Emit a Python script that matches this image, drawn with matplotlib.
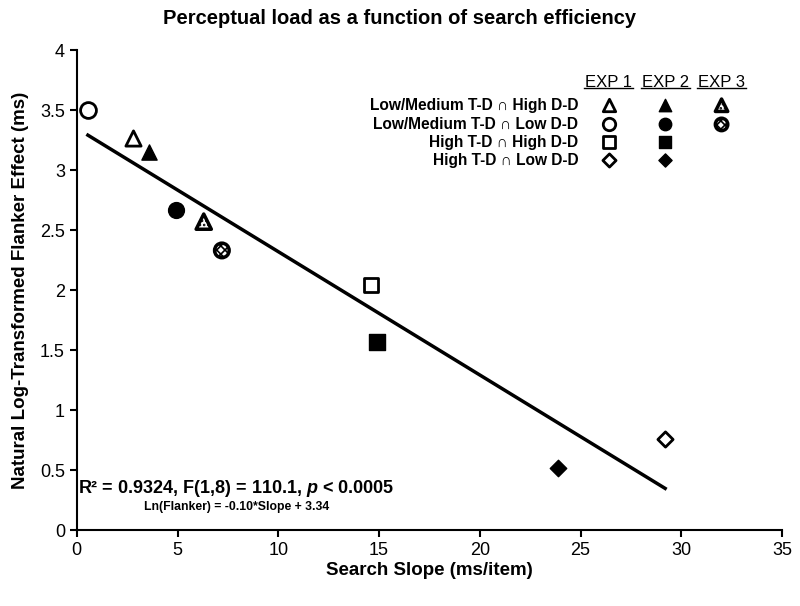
import numpy as np
import matplotlib.pyplot as plt

plt.rcParams['font.family'] = ['Liberation Sans', 'DejaVu Sans']
plt.rcParams['hatch.linewidth'] = 1.2
plt.rcParams['mathtext.fontset'] = 'custom'
plt.rcParams['mathtext.it'] = 'Liberation Sans:italic:bold'
plt.rcParams['mathtext.rm'] = 'Liberation Sans:bold'

# search slope (ms/item) and ln flanker effect per condition
labels = ["EXP1 LM-HD", "EXP1 LM-LD", "EXP1 H-HD", "EXP1 H-LD",
          "EXP2 LM-HD", "EXP2 LM-LD", "EXP2 H-HD", "EXP2 H-LD",
          "EXP3 LM-HD", "EXP3 LM-LD"]
slope = [2.8, 0.55, 14.6, 29.2, 3.6, 4.9, 14.9, 23.9, 6.3, 7.2]
flanker = [3.27, 3.50, 2.04, 0.76, 3.15, 2.67, 1.57, 0.52, 2.57, 2.33]
markers = ['^', 'o', 's', 'D', '^', 'o', 's', 'D', '^', 'o']
styles = ['open', 'open', 'open', 'open', 'filled', 'filled', 'filled', 'filled', 'hatch', 'hatch']
sizes = [120, 130, 110, 60, 120, 130, 130, 70, 120, 110]

legend_rows = ["Low/Medium T-D \u2229 High D-D", "Low/Medium T-D \u2229 Low D-D",
               "High T-D \u2229 High D-D", "High T-D \u2229 Low D-D"]
legend_markers = ['^', 'o', 's', 'D']
exp_names = ["EXP 1", "EXP 2", "EXP 3"]


def draw_point(ax, x, y, m, style, s, **kw):
    if style == 'open':
        ax.scatter(x, y, marker=m, s=s, facecolor='white', edgecolor='black', linewidth=2, zorder=3, **kw)
    elif style == 'filled':
        ax.scatter(x, y, marker=m, s=s, facecolor='black', edgecolor='black', linewidth=1, zorder=3, **kw)
    else:
        ax.scatter(x, y, marker=m, s=s, facecolor='white', edgecolor='black', linewidth=2.5,
                   hatch='xxxx' if m == 'o' else '....', zorder=3, **kw)


fig = plt.figure(figsize=(8, 6.06), dpi=100)
ax = fig.add_axes([0.096, 0.1254, 0.8815, 0.792])

# fit line
coef = np.polyfit(slope, flanker, 1)
xs = np.array([min(slope), max(slope)])
ax.plot(xs, np.polyval(coef, xs), color='black', linewidth=2.5, zorder=2)

for x, y, m, st, s in zip(slope, flanker, markers, styles, sizes):
    draw_point(ax, x, y, m, st, s)

ax.set_xlim(0, 35)
ax.set_ylim(0, 4)
ax.set_xticks(np.arange(0, 36, 5))
ax.set_yticks(np.arange(0, 4.01, 0.5))
ax.set_yticklabels(['0', '0.5', '1', '1.5', '2', '2.5', '3', '3.5', '4'])
for sp in ['top', 'right']:
    ax.spines[sp].set_visible(False)
for sp in ['left', 'bottom']:
    ax.spines[sp].set_linewidth(1.5)
ax.tick_params(labelsize=13, width=1.5, length=5, direction='out')

ax.set_xlabel("Search Slope (ms/item)", fontsize=13.5, fontweight='bold', labelpad=2)
ax.set_ylabel("Natural Log-Transformed Flanker Effect (ms)", fontsize=13.5, fontweight='bold', labelpad=8)
fig.suptitle("Perceptual load as a function of search efficiency", fontsize=14.5, fontweight='bold', y=0.985)

ax.text(0.05, 0.345, "R\u00b2 = 0.9324, F(1,8) = 110.1, $p$ < 0.0005",
        fontsize=13, fontweight='bold', va='center', ha='left')
ax.text(3.35, 0.19, "Ln(Flanker) = -0.10*Slope + 3.34", fontsize=8.8, fontweight='bold', va='center', ha='left')

# custom legend
col_x = [26.4, 29.2, 32.0]
row_y = [3.54, 3.38, 3.23, 3.08]
for cx, name in zip(col_x, exp_names):
    ax.text(cx, 3.73, name, fontsize=12, ha='center', va='center')
    ax.plot([cx - 1.22, cx + 1.22], [3.683, 3.683], color='black', linewidth=1, clip_on=False)
for ry, lab, m in zip(row_y, legend_rows, legend_markers):
    ax.text(24.9, ry, lab, fontsize=11.2, fontweight='bold', ha='right', va='center')
    ms = 45 if m == 'D' else 80
    draw_point(ax, col_x[0], ry, m, 'open', ms, clip_on=False)
    draw_point(ax, col_x[1], ry, m, 'filled', ms, clip_on=False)
    if m in ('^', 'o'):
        draw_point(ax, col_x[2], ry, m, 'hatch', ms, clip_on=False)

fig.savefig("out.png", dpi=100)
